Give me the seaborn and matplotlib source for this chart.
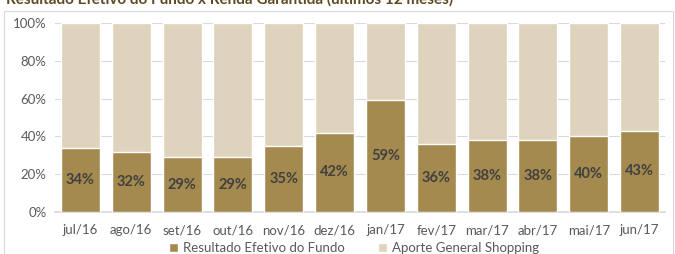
import matplotlib
matplotlib.use("Agg")
import matplotlib.pyplot as plt
import seaborn as sns
import pandas as pd
from matplotlib.patches import Rectangle

months = ["jul/16", "ago/16", "set/16", "out/16", "nov/16", "dez/16",
          "jan/17", "fev/17", "mar/17", "abr/17", "mai/17", "jun/17"]
resultado = [34, 32, 29, 29, 35, 42, 59, 36, 38, 38, 40, 43]
aporte = [100 - v for v in resultado]

title = "Resultado Efetivo do Fundo x Renda Garantida (últimos 12 meses)"
label_res = "Resultado Efetivo do Fundo"
label_ap = "Aporte General Shopping"

dark = "#A58A4F"
light = "#DED3BD"

sns.set_theme(style="white")
plt.rcParams['font.family'] = ['Lato', 'DejaVu Sans']

df = pd.DataFrame({"mes": months, "res": resultado, "ap": aporte})
df["total"] = df["res"] + df["ap"]

fig = plt.figure(figsize=(6.75, 2.54), dpi=100)
ax = fig.add_axes([55/675, 1 - 212/254, 610/675, 189/254])

sns.barplot(data=df, x="mes", y="total", color=light, width=0.77,
            saturation=1, ax=ax, label=label_ap, zorder=2)
sns.barplot(data=df, x="mes", y="res", color=dark, width=0.77,
            saturation=1, ax=ax, label=label_res, zorder=3)

for i, v in enumerate(resultado):
    ax.text(i, v / 2, f"{v}%", ha="center", va="center", fontsize=10.5,
            fontweight="bold", color="#404040", zorder=4)

ax.set_ylim(0, 100)
ax.set_xlim(-0.5, len(months) - 0.5)
ax.set_yticks(range(0, 101, 20))
ax.set_yticklabels([f"{t}%" for t in range(0, 101, 20)])
ax.yaxis.grid(True, color="#D9D9D9", linewidth=0.8, zorder=0)
ax.set_axisbelow(True)
ax.set_xlabel("")
ax.set_ylabel("")
for s in ["top", "right", "left"]:
    ax.spines[s].set_visible(False)
ax.spines["bottom"].set_color("#D9D9D9")
ax.tick_params(axis="both", length=0, labelsize=9.5, colors="#595959")
ax.tick_params(axis="x", pad=9)
ax.tick_params(axis="y", pad=6)

handles, labels = ax.get_legend_handles_labels()
order = [labels.index(label_res), labels.index(label_ap)]
leg = ax.legend([handles[i] for i in order], [labels[i] for i in order],
                loc="center", bbox_to_anchor=((354 - 55) / 610, (212 - 248) / 189),
                ncol=2, frameon=False, fontsize=9.5, handlelength=0.7,
                handleheight=0.7, columnspacing=2.5, handletextpad=0.4)
for t in leg.get_texts():
    t.set_color("#595959")

fig.patches.append(Rectangle((4/675, -0.1), 669/675, 1.1 - 11/254,
                             transform=fig.transFigure, fill=False,
                             edgecolor="#D9D9D9", linewidth=0.8))
fig.text(6/675, 1 - 4/254, title, ha="left", va="baseline", fontsize=11,
         fontweight="bold", color="#5C4A22")

fig.savefig("out.png", dpi=100)
